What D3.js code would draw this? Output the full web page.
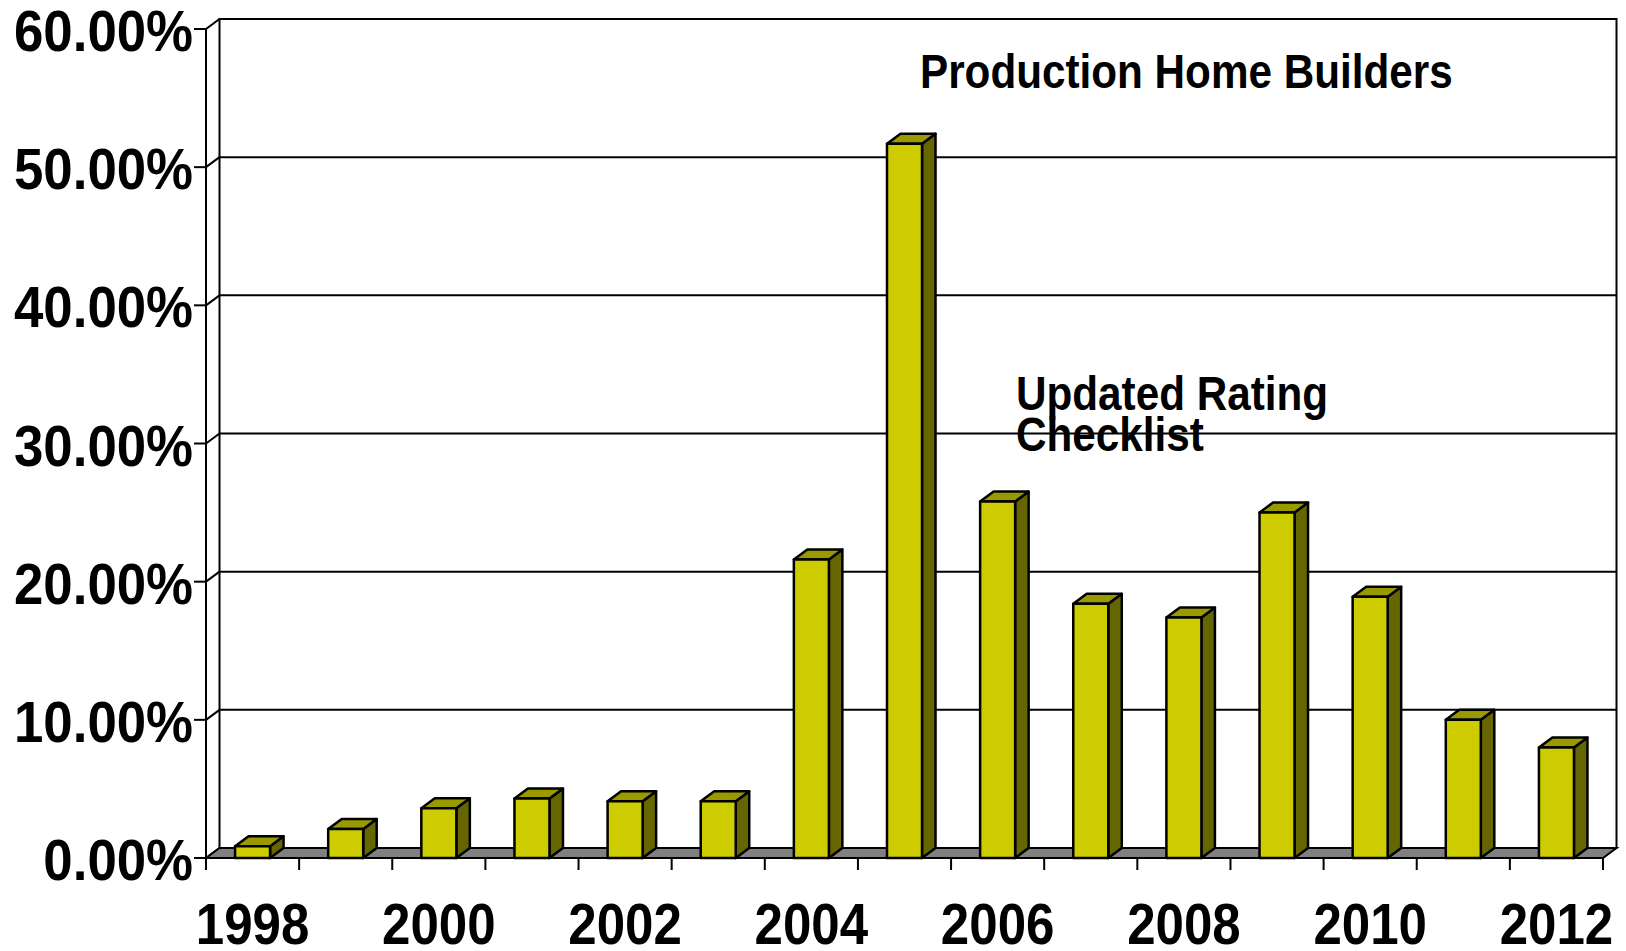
<!DOCTYPE html>
<html>
<head>
<meta charset="utf-8">
<script src="https://cdn.jsdelivr.net/npm/d3@7"></script>
<style>
  body { margin: 0; background: #fff; }
  text { font-family: "Liberation Sans", Arial, sans-serif; font-weight: bold; fill: #000; }
</style>
</head>
<body>
<svg id="chart" width="1626" height="951"></svg>
<script>
// data
let years = ["1998","1999","2000","2001","2002","2003","2004","2005","2006","2007","2008","2009","2010","2011","2012"];
let values = [0.85, 2.1, 3.6, 4.3, 4.1, 4.1, 21.6, 51.7, 25.8, 18.4, 17.4, 25.0, 18.9, 10.0, 8.0];
let yTicks = [0, 10, 20, 30, 40, 50, 60];
let xLabels = ["1998","2000","2002","2004","2006","2008","2010","2012"];
let notes = [
  {lines: ["Production Home Builders"], x: 920, y: 88},
  {lines: ["Updated Rating", "Checklist"], x: 1016, y: 410}
];

let svg = d3.select('#chart');

// 3d depth offset
let dx = 13.5, dy = 10;
let squash = 0.88; // text looks horizontally condensed

let x = d3.scaleBand().domain(years).range([206, 1603]).padding(0);
let y = d3.scaleLinear().domain([0, 60]).range([858, 29]);

let left = x.range()[0], right = x.range()[1];

// back wall
svg.append('rect')
   .attr('x', left + dx).attr('y', y(60) - dy)
   .attr('width', right - left).attr('height', y(0) - y(60))
   .attr('fill', '#fff').attr('stroke', '#000').attr('stroke-width', 2);

// gridlines on back wall + side wall diagonals + left ticks
let grid = svg.append('g').attr('stroke', '#000').attr('stroke-width', 2).attr('fill', 'none');
yTicks.forEach(function(t) {
  grid.append('line')
      .attr('x1', left + dx).attr('x2', right + dx)
      .attr('y1', y(t) - dy).attr('y2', y(t) - dy);
  grid.append('line')
      .attr('x1', left).attr('x2', left + dx)
      .attr('y1', y(t)).attr('y2', y(t) - dy);
  grid.append('line')
      .attr('x1', left - 12).attr('x2', left)
      .attr('y1', y(t)).attr('y2', y(t));
});
// front vertical axis
grid.append('line')
    .attr('x1', left).attr('x2', left)
    .attr('y1', y(60)).attr('y2', y(0));

// floor
svg.append('path')
   .attr('d', d3.line()([[left, y(0)], [right, y(0)], [right + dx, y(0) - dy], [left + dx, y(0) - dy]]) + 'Z')
   .attr('fill', '#808080').attr('stroke', '#000').attr('stroke-width', 2);

// category ticks under the floor
let ticks = years.map(d => x(d)).concat([right]);
svg.append('g').selectAll('line').data(ticks).enter().append('line')
   .attr('x1', d => d).attr('x2', d => d)
   .attr('y1', y(0)).attr('y2', y(0) + 12)
   .attr('stroke', '#000').attr('stroke-width', 2);

// bars
let bw = x.bandwidth() * 0.376;
let bars = svg.append('g').selectAll('g').data(years).enter().append('g')
   .attr('stroke', '#000').attr('stroke-width', 2.5).attr('stroke-linejoin', 'round');

bars.each(function(d, i) {
  let g = d3.select(this);
  let x0 = x(d) + (x.bandwidth() - bw) / 2, x1 = x0 + bw;
  let yt = y(values[i]), yb = y(0);
  // side
  g.append('path')
   .attr('d', d3.line()([[x1, yt], [x1 + dx, yt - dy], [x1 + dx, yb - dy], [x1, yb]]) + 'Z')
   .attr('fill', '#666600');
  // top
  g.append('path')
   .attr('d', d3.line()([[x0, yt], [x1, yt], [x1 + dx, yt - dy], [x0 + dx, yt - dy]]) + 'Z')
   .attr('fill', '#999900');
  // front
  g.append('rect')
   .attr('x', x0).attr('y', yt).attr('width', bw).attr('height', yb - yt)
   .attr('fill', '#cccc00');
});

// y labels
svg.append('g').selectAll('text').data(yTicks).enter().append('text')
   .attr('transform', d => 'translate(193,' + (y(d) + 22) + ') scale(0.91,1)')
   .attr('text-anchor', 'end')
   .style('font-size', '58px')
   .text(d => d.toFixed(2) + '%');

// x labels
svg.append('g').selectAll('text').data(xLabels).enter().append('text')
   .attr('transform', d => 'translate(' + (x(d) + x.bandwidth() / 2) + ',944) scale(' + squash + ',1)')
   .attr('text-anchor', 'middle')
   .style('font-size', '58px')
   .text(d => d);

// annotations
notes.forEach(function(n) {
  let t = svg.append('text')
     .attr('transform', 'translate(' + n.x + ',' + n.y + ') scale(' + squash + ',1)')
     .style('font-size', '48px');
  n.lines.forEach(function(l, i) {
    t.append('tspan').attr('x', 0).attr('dy', i ? 41 : 0).text(l);
  });
});
</script>
</body>
</html>
